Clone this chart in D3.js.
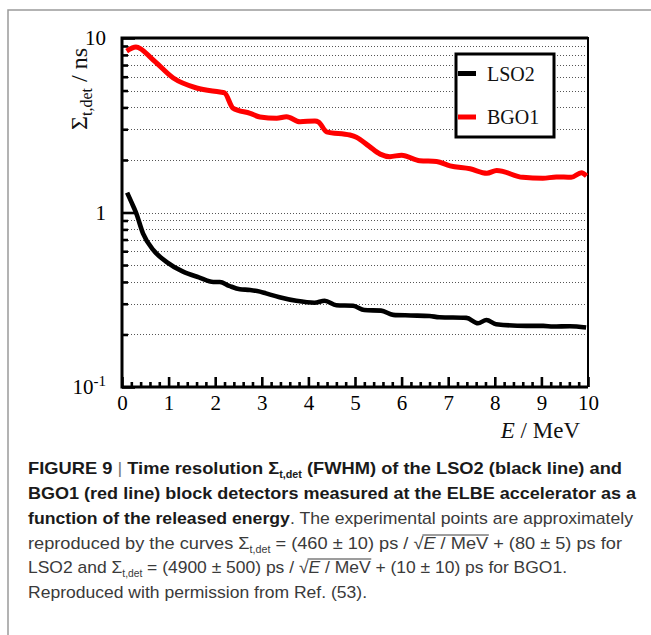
<!DOCTYPE html>
<html>
<head>
<meta charset="utf-8">
<script src="https://cdn.jsdelivr.net/npm/d3@7"></script>
<style>
  body { margin: 0; background: #fff; }
  svg { display: block; }
</style>
</head>
<body>
<svg id="fig" width="651" height="635"></svg>
<script>
// Time resolution (FWHM) in ns versus released energy in MeV
const lsoEnergy = [0.11, 0.2, 0.3, 0.45, 0.67, 0.96, 1.31, 1.65, 1.96, 2.1, 2.3, 2.53, 2.75, 2.96, 3.09, 3.38, 3.74, 4.13, 4.35, 4.6, 4.96, 5.2, 5.56, 5.82, 6.2, 6.6, 6.81, 7.39, 7.64, 7.82, 8.03, 8.68, 9.04, 9.25, 9.61, 9.96];
const lsoSigma  = [1.30, 1.15, 1.0, 0.76, 0.61, 0.52, 0.458, 0.425, 0.40, 0.40, 0.38, 0.363, 0.36, 0.352, 0.344, 0.327, 0.312, 0.304, 0.312, 0.294, 0.292, 0.276, 0.274, 0.259, 0.257, 0.255, 0.251, 0.249, 0.232, 0.242, 0.229, 0.224, 0.224, 0.222, 0.223, 0.219];

const bgoEnergy = [0.1, 0.3, 0.67, 1.1, 1.6, 2.1, 2.2, 2.38, 2.75, 2.96, 3.32, 3.53, 3.82, 4.14, 4.22, 4.39, 4.89, 5.03, 5.3, 5.54, 5.75, 6.0, 6.39, 6.75, 7.04, 7.47, 7.83, 8.04, 8.6, 9.03, 9.32, 9.64, 9.86, 9.97];
const bgoSigma  = [8.42, 8.88, 7.48, 5.90, 5.17, 4.9, 4.85, 3.97, 3.70, 3.53, 3.47, 3.54, 3.31, 3.35, 3.3, 2.90, 2.78, 2.70, 2.4, 2.16, 2.09, 2.13, 1.98, 1.96, 1.85, 1.78, 1.68, 1.74, 1.59, 1.57, 1.60, 1.59, 1.69, 1.62];

const seriesNames  = ["LSO2", "BGO1"];
const seriesColors = ["#000000", "#ff0000"];

const xMajorTicks = d3.range(0, 11);
const xMinorTicks = d3.range(0, 50).map(i => i * 0.2).filter(v => Math.abs(v - Math.round(v)) > 1e-6);
const yMajorTicks = [0.1, 1, 10];
const yMinorTicks = [2, 3, 4, 5, 6, 7, 8, 9].flatMap(k => [0.1 * k, 1 * k]);

const serif = "'Liberation Serif', 'Times New Roman', serif";
const sans  = "'Liberation Sans', Arial, Helvetica, sans-serif";

const svg = d3.select("#fig");

// plot frame geometry
const L = 122, R = 588, T = 38, B = 387;
const x = d3.scaleLinear().domain([0, 10]).range([L, R]);
const y = d3.scaleLog().domain([0.1, 10]).range([B, T]);

// light page border
svg.append("path")
  .attr("d", "M8,635V10H651")
  .attr("fill", "none")
  .attr("stroke", "#9b9b9b")
  .attr("stroke-width", 1.5);

// dotted horizontal grid
svg.append("g")
  .selectAll("line")
  .data(yMinorTicks.concat([1]))
  .join("line")
  .attr("x1", L).attr("x2", R)
  .attr("y1", d => Math.round(y(d)) + 0.5)
  .attr("y2", d => Math.round(y(d)) + 0.5)
  .attr("stroke", "#555")
  .attr("stroke-width", 1)
  .attr("stroke-dasharray", "1,2");

// x axis: inward ticks
const xMinorAxis = d3.axisBottom(x).tickValues(xMinorTicks).tickSize(-5).tickFormat("");
const xMajorAxis = d3.axisBottom(x).tickValues(xMajorTicks).tickSize(-10).tickPadding(8).tickFormat(d3.format("d"));
svg.append("g").attr("transform", `translate(0,${B})`).call(xMinorAxis);
svg.append("g").attr("transform", `translate(0,${B})`).call(xMajorAxis);

// y axis: inward ticks
const yMinorAxis = d3.axisLeft(y).tickValues(yMinorTicks).tickSize(-6).tickFormat("");
const yMajorAxis = d3.axisLeft(y).tickValues(yMajorTicks).tickSize(-13).tickPadding(16)
  .tickFormat(d => d === 0.1 ? "10" : d3.format("d")(d));
svg.append("g").attr("transform", `translate(${L},0)`).call(yMinorAxis);
const yMaj = svg.append("g").attr("transform", `translate(${L},0)`).call(yMajorAxis);

svg.selectAll(".domain").remove();
svg.selectAll(".tick line").attr("stroke", "#000").attr("stroke-width", 2.6);
svg.selectAll(".tick text")
  .attr("font-family", serif)
  .attr("font-size", 21)
  .attr("fill", "#000");

// 10^-1 label with superscript
yMaj.selectAll(".tick").filter(d => d === 0.1).select("text")
  .append("tspan")
  .attr("font-size", 15)
  .attr("dy", "-0.55em")
  .text("-1");
yMaj.selectAll(".tick").filter(d => d === 0.1).select("text")
  .attr("dx", 0).attr("x", -16);

// frame
svg.append("path")
  .attr("d", `M${R},${T}H${L}V${B}H${R}`)
  .attr("fill", "none").attr("stroke", "#000").attr("stroke-width", 3);
svg.append("path")
  .attr("d", `M${L},${T}H${R}V${B}`)
  .attr("fill", "none").attr("stroke", "#000").attr("stroke-width", 2);

// curves
const line = d3.line()
  .curve(d3.curveMonotoneX)
  .x(d => x(d[0]))
  .y(d => y(d[1]));

const series = [
  d3.zip(lsoEnergy, lsoSigma),
  d3.zip(bgoEnergy, bgoSigma)
];

svg.append("g")
  .selectAll("path")
  .data(series)
  .join("path")
  .attr("d", line)
  .attr("fill", "none")
  .attr("stroke", (d, i) => seriesColors[i])
  .attr("stroke-width", (d, i) => i === 0 ? 4.6 : 5)
  .attr("stroke-linejoin", "round")
  .attr("stroke-linecap", "butt");

// legend
const leg = svg.append("g");
leg.append("rect")
  .attr("x", 456).attr("y", 54).attr("width", 98).attr("height", 83)
  .attr("fill", "#fff").attr("stroke", "#000").attr("stroke-width", 3);
const legRows = leg.selectAll("g.row")
  .data(seriesNames)
  .join("g")
  .attr("class", "row")
  .attr("transform", (d, i) => `translate(0,${73.5 + i * 43.5})`);
legRows.append("line")
  .attr("x1", 458).attr("x2", 476)
  .attr("stroke", (d, i) => seriesColors[i])
  .attr("stroke-width", 5);
legRows.append("text")
  .attr("x", 487).attr("y", 7)
  .attr("font-family", serif).attr("font-size", 20)
  .attr("fill", "#111")
  .text(d => d);

// y-axis title
const yTitle = svg.append("text")
  .attr("transform", "translate(87,89) rotate(-90)")
  .attr("text-anchor", "middle")
  .attr("font-family", serif)
  .attr("font-size", 24)
  .attr("fill", "#111");
yTitle.append("tspan").text("Σ");
yTitle.append("tspan").attr("font-size", 16).attr("dy", 5).text("t,det");
yTitle.append("tspan").attr("dy", -5).text(" / ns");

// x-axis title
const xTitle = svg.append("text")
  .attr("x", 580).attr("y", 438)
  .attr("text-anchor", "end")
  .attr("font-family", serif)
  .attr("font-size", 23)
  .attr("fill", "#111");
xTitle.append("tspan").attr("font-style", "italic").text("E");
xTitle.append("tspan").text(" / MeV");

// caption
const capX = 28;
const capLines = [
  { y: 474, w: 594, parts: [
    { t: "FIGURE 9 ", b: 1 }, { t: "|", c: "#777" }, { t: " Time resolution Σ", b: 1 },
    { t: "t,det", b: 1, sub: 1 }, { t: " (FWHM) of the LSO2 (black line) and", b: 1 } ] },
  { y: 499, w: 608, parts: [
    { t: "BGO1 (red line) block detectors measured at the ELBE accelerator as a", b: 1 } ] },
  { y: 524, w: 605, parts: [
    { t: "function of the released energy", b: 1 },
    { t: ". The experimental points are approximately" } ] },
  { y: 549, w: 594, parts: [
    { t: "reproduced by the curves  Σ" }, { t: "t,det", sub: 1 },
    { t: " = (460 ± 10) ps / √" }, { t: "E", i: 1, root: 1 }, { t: " / MeV", root: 1 },
    { t: " + (80 ± 5) ps  for" } ] },
  { y: 573, w: 539, parts: [
    { t: "LSO2 and Σ" }, { t: "t,det", sub: 1 },
    { t: " = (4900 ± 500) ps / √" }, { t: "E", i: 1, root: 1 }, { t: " / MeV", root: 1 },
    { t: " + (10 ± 10) ps for BGO1." } ] },
  { y: 598, w: 339, parts: [
    { t: "Reproduced with permission from Ref. (53)." } ] }
];

const cap = svg.append("g");
capLines.forEach(ln => {
  const txt = cap.append("text")
    .attr("x", capX).attr("y", ln.y)
    .attr("font-family", sans)
    .attr("font-size", 17)
    .attr("fill", "#3a3a3a")
    .attr("textLength", ln.w)
    .attr("lengthAdjust", "spacingAndGlyphs");
  let shifted = false;
  ln.parts.forEach(p => {
    const ts = txt.append("tspan").text(p.t);
    if (p.b) ts.attr("font-weight", "bold").attr("fill", "#1a1a1a");
    if (p.c) ts.attr("fill", p.c);
    if (p.i) ts.attr("font-style", "italic");
    if (p.root) ts.attr("class", "root");
    if (p.sub) { ts.attr("font-size", 10).attr("dy", 4); shifted = true; }
    else if (shifted) { ts.attr("dy", -4); shifted = false; }
  });
  // overline of the square root
  const roots = txt.selectAll("tspan.root").nodes();
  if (roots.length) {
    const b0 = roots[0].getBBox();
    const b1 = roots[roots.length - 1].getBBox();
    cap.append("line")
      .attr("x1", b0.x - 1).attr("x2", b1.x + b1.width)
      .attr("y1", ln.y - 14).attr("y2", ln.y - 14)
      .attr("stroke", "#3a3a3a").attr("stroke-width", 1);
  }
});
</script>
</body>
</html>
